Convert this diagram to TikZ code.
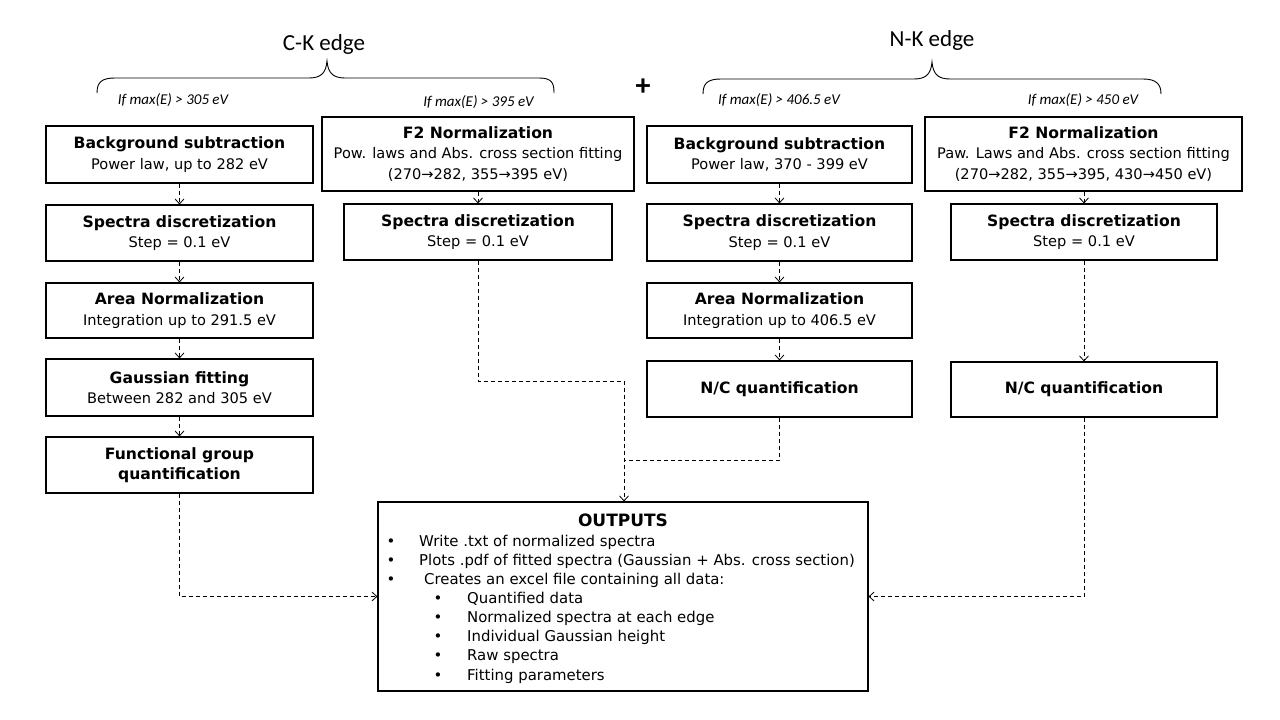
\documentclass[tikz,border=0pt]{standalone}
\usepackage{fontspec}
\setmainfont{DejaVu Sans}
\newfontfamily\calib{Carlito}
\usetikzlibrary{arrows.meta}
\tikzset{
 stepbox/.style={draw, line width=1.1pt, inner sep=0pt, align=center, font=\fontsize{14.6}{20.5}\selectfont},
 conn/.style={draw, line width=0.85pt, dash pattern=on 4pt off 3pt},
 arrowtip/.style={-{Straight Barb[length=5pt,width=9pt,line width=0.8pt]}},
 condlbl/.style={font=\calib\itshape\fontsize{15}{18}\selectfont, anchor=base, inner sep=0pt},
 edgelbl/.style={font=\calib\fontsize{23}{26}\selectfont, anchor=base, inner sep=0pt},
 bracepath/.style={draw, line width=0.9pt},
 bulletitem/.style={anchor=base west, inner sep=0pt, font=\fontsize{14.9}{17}\selectfont},
}
\newcommand{\ttl}[1]{{\bfseries\fontsize{15.6}{20.5}\selectfont #1}}
\begin{document}
\begin{tikzpicture}[x=1pt,y=-1pt]
\useasboundingbox[fill=white] (0,0) rectangle (1280,720);

% headings and braces
\node[edgelbl] (ck) at (324,50) {C-K edge};
\node[edgelbl] (nk) at (932,46) {N-K edge};
\node[font=\calib\bfseries\fontsize{30}{32}\selectfont, anchor=base, inner sep=0pt] (plus) at (643,95) {+};
\draw[bracepath] (97,93) .. controls (97,82) and (102,78) .. (115,78) -- (309,78)
  .. controls (321,78) and (326,73) .. (327,61) .. controls (328,73) and (333,78) .. (345,78)
  -- (539,78) .. controls (552,78) and (554,83) .. (554,93);
\draw[bracepath] (703,94) .. controls (703,83) and (708,79) .. (721,79) -- (914,79)
  .. controls (926,79) and (931,74) .. (932,62) .. controls (933,74) and (938,79) .. (950,79)
  -- (1143,79) .. controls (1156,79) and (1161,84) .. (1161,94);
\node[condlbl] (c1) at (173,104) {If max(E) > 305 eV};
\node[condlbl] (c2) at (478.5,106) {If max(E) > 395 eV};
\node[condlbl] (c3) at (779,104) {If max(E) > 406.5 eV};
\node[condlbl] (c4) at (1083,104) {If max(E) > 450 eV};

% column 1
\node[stepbox, minimum width=267pt, minimum height=57pt] (bs1) at (179.5,154.5) {\ttl{Background subtraction}\\Power law, up to 282 eV};
\node[stepbox, minimum width=267pt, minimum height=56pt] (sd1) at (179.5,233) {\ttl{Spectra discretization}\\Step = 0.1 eV};
\node[stepbox, minimum width=267pt, minimum height=55pt] (an1) at (179.5,310.5) {\ttl{Area Normalization}\\Integration up to 291.5 eV};
\node[stepbox, minimum width=267pt, minimum height=57pt] (gf1) at (179.5,387.5) {\ttl{Gaussian fitting}\\Between  282 and 305 eV};
\node[stepbox, minimum width=267pt, minimum height=56pt] (fg1) at (179.5,465) {\ttl{Functional group}\\\ttl{quantification}};

% column 2
\node[stepbox, minimum width=312pt, minimum height=74pt] (f2c) at (478,154) {\ttl{F2 Normalization}\\Pow. laws and Abs. cross section fitting\\(270→282, 355→395 eV)};
\node[stepbox, minimum width=268pt, minimum height=56pt] (sd2) at (478,232) {\ttl{Spectra discretization}\\Step = 0.1 eV};

% column 3
\node[stepbox, minimum width=265pt, minimum height=57pt] (bs3) at (779.5,154.5) {\ttl{Background subtraction}\\Power law, 370 - 399 eV};
\node[stepbox, minimum width=265pt, minimum height=57pt] (sd3) at (779.5,232.5) {\ttl{Spectra discretization}\\Step = 0.1 eV};
\node[stepbox, minimum width=265pt, minimum height=55pt] (an3) at (779.5,310.5) {\ttl{Area Normalization}\\Integration up to 406.5 eV};
\node[stepbox, minimum width=265pt, minimum height=56pt] (nc3) at (779.5,389) {\ttl{N/C quantification}};

% column 4
\node[stepbox, minimum width=317pt, minimum height=74pt] (f2n) at (1083.5,154) {\ttl{F2 Normalization}\\Paw. Laws and Abs. cross section fitting\\(270→282, 355→395, 430→450 eV)};
\node[stepbox, minimum width=266pt, minimum height=56pt] (sd4) at (1084,232) {\ttl{Spectra discretization}\\Step = 0.1 eV};
\node[stepbox, minimum width=266pt, minimum height=55pt] (nc4) at (1084,389.5) {\ttl{N/C quantification}};

% outputs
\node[draw, line width=1.1pt, minimum width=490pt, minimum height=189pt, inner sep=0pt] (out) at (623,596.5) {};
\node[font=\bfseries\fontsize{17}{20}\selectfont, anchor=base, inner sep=0pt] (otitle) at (623,526) {OUTPUTS};
\node[bulletitem, anchor=base] (b1) at (391,546) {•};
\node[bulletitem, anchor=base] (b2) at (391,565.1) {•};
\node[bulletitem, anchor=base] (b3) at (391,584.3) {•};
\node[bulletitem, anchor=base] (b4) at (438,603.4) {•};
\node[bulletitem, anchor=base] (b5) at (438,622.6) {•};
\node[bulletitem, anchor=base] (b6) at (438,641.7) {•};
\node[bulletitem, anchor=base] (b7) at (438,660.9) {•};
\node[bulletitem, anchor=base] (b8) at (438,680) {•};
\node[bulletitem] (t1) at (419,546) {Write .txt of normalized spectra};
\node[bulletitem] (t2) at (419,565.1) {Plots .pdf of fitted spectra (Gaussian + Abs. cross section)};
\node[bulletitem] (t3) at (424,584.3) {Creates an excel file containing all data:};
\node[bulletitem] (t4) at (467,603.4) {Quantified data};
\node[bulletitem] (t5) at (467,622.6) {Normalized spectra at each edge};
\node[bulletitem] (t6) at (467,641.7) {Individual Gaussian height};
\node[bulletitem] (t7) at (467,660.9) {Raw spectra};
\node[bulletitem] (t8) at (467,680) {Fitting parameters};

% connectors
\draw[conn, arrowtip] (bs1) -- (sd1);
\draw[conn, arrowtip] (sd1) -- (an1);
\draw[conn, arrowtip] (an1) -- (gf1);
\draw[conn, arrowtip] (gf1) -- (fg1);
\draw[conn, arrowtip] (f2c) -- (sd2);
\draw[conn, arrowtip] (bs3) -- (sd3);
\draw[conn, arrowtip] (sd3) -- (an3);
\draw[conn, arrowtip] (an3) -- (nc3);
\draw[conn, arrowtip] (f2n.south -| sd4.north) -- (sd4.north);
\draw[conn, arrowtip] (sd4) -- (nc4);
\coordinate (m1) at (624,381);
\coordinate (m2) at (624,460);
\draw[conn, arrowtip] (sd2.south) |- (m1) -- (m1 |- out.north);
\draw[conn] (nc3.south) |- (m2);
\draw[conn, arrowtip] (fg1.south) |- (out.west);
\draw[conn, arrowtip] (nc4.south) |- (out.east);
\end{tikzpicture}
\end{document}
